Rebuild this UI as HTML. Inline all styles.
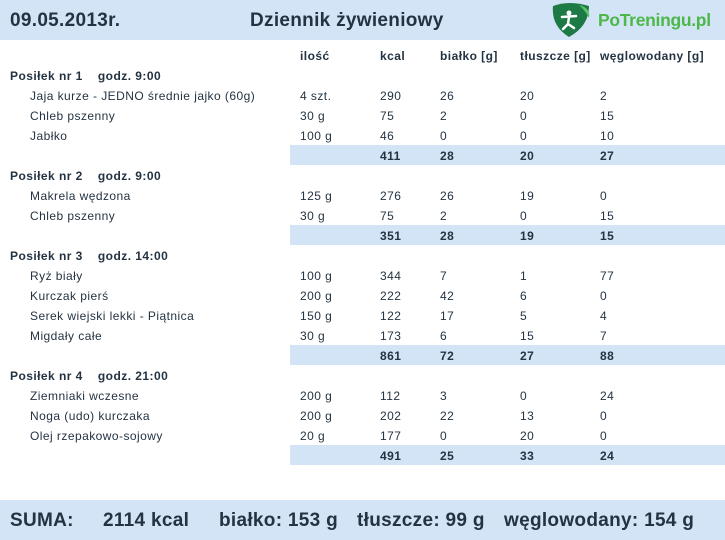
<!DOCTYPE html>
<html><head><meta charset="utf-8"><style>
*{margin:0;padding:0;box-sizing:border-box}
body{width:725px;height:540px;background:#fff;position:relative;overflow:hidden;font-family:"Liberation Sans",sans-serif;color:#243342;font-size:12px;letter-spacing:0.45px}
.t{position:absolute;white-space:nowrap;line-height:20px;margin-top:1px}
.b{font-weight:bold}
.band{position:absolute;background:#d3e4f7}
.big{font-size:19px;font-weight:bold;letter-spacing:0.3px}
</style></head><body>
<div class="band" style="left:0;top:0;width:725px;height:40px"></div>
<div class="t big" style="left:10px;top:10px">09.05.2013r.</div>
<div class="t big" style="left:250px;top:10px">Dziennik żywieniowy</div>
<svg style="position:absolute;left:549px;top:2px" width="44" height="36" viewBox="0 0 44 36">
<path d="M4 4 Q20 -2 40 4 Q40 24 20 35 Q2 24 4 4Z" fill="#1e7a45"/>
<path d="M30 3 Q42 6 40 16 Q36 8 30 3Z" fill="#5cc26a"/>
<circle cx="20" cy="11" r="2.5" fill="#fff"/>
<path d="M13 15 L27 14 M20 15 L19 22 L14 27 M19 22 L25 26" stroke="#fff" stroke-width="2.5" fill="none" stroke-linecap="round"/>
</svg>
<div class="t" style="left:598px;top:9px;font-size:17.5px;font-weight:bold;color:#4cb848;letter-spacing:-0.3px">PoTreningu.pl</div>

<div class="t b" style="left:300px;top:45px">ilość</div>
<div class="t b" style="left:380px;top:45px">kcal</div>
<div class="t b" style="left:440px;top:45px">białko [g]</div>
<div class="t b" style="left:520px;top:45px">tłuszcze [g]</div>
<div class="t b" style="left:600px;top:45px">węglowodany [g]</div>

<div class="band" style="left:290px;top:145px;width:435px;height:20px"></div>
<div class="band" style="left:290px;top:225px;width:435px;height:20px"></div>
<div class="band" style="left:290px;top:345px;width:435px;height:20px"></div>
<div class="band" style="left:290px;top:445px;width:435px;height:20px"></div>

<div class="t b" style="left:10px;top:65px">Posiłek nr 1 &nbsp;&nbsp; godz. 9:00</div>
<div class="t" style="left:30px;top:85px">Jaja kurze - JEDNO średnie jajko (60g)</div><div class="t" style="left:300px;top:85px">4 szt.</div><div class="t" style="left:380px;top:85px">290</div><div class="t" style="left:440px;top:85px">26</div><div class="t" style="left:520px;top:85px">20</div><div class="t" style="left:600px;top:85px">2</div>
<div class="t" style="left:30px;top:105px">Chleb pszenny</div><div class="t" style="left:300px;top:105px">30 g</div><div class="t" style="left:380px;top:105px">75</div><div class="t" style="left:440px;top:105px">2</div><div class="t" style="left:520px;top:105px">0</div><div class="t" style="left:600px;top:105px">15</div>
<div class="t" style="left:30px;top:125px">Jabłko</div><div class="t" style="left:300px;top:125px">100 g</div><div class="t" style="left:380px;top:125px">46</div><div class="t" style="left:440px;top:125px">0</div><div class="t" style="left:520px;top:125px">0</div><div class="t" style="left:600px;top:125px">10</div>
<div class="t b" style="left:380px;top:145px">411</div><div class="t b" style="left:440px;top:145px">28</div><div class="t b" style="left:520px;top:145px">20</div><div class="t b" style="left:600px;top:145px">27</div>

<div class="t b" style="left:10px;top:165px">Posiłek nr 2 &nbsp;&nbsp; godz. 9:00</div>
<div class="t" style="left:30px;top:185px">Makrela wędzona</div><div class="t" style="left:300px;top:185px">125 g</div><div class="t" style="left:380px;top:185px">276</div><div class="t" style="left:440px;top:185px">26</div><div class="t" style="left:520px;top:185px">19</div><div class="t" style="left:600px;top:185px">0</div>
<div class="t" style="left:30px;top:205px">Chleb pszenny</div><div class="t" style="left:300px;top:205px">30 g</div><div class="t" style="left:380px;top:205px">75</div><div class="t" style="left:440px;top:205px">2</div><div class="t" style="left:520px;top:205px">0</div><div class="t" style="left:600px;top:205px">15</div>
<div class="t b" style="left:380px;top:225px">351</div><div class="t b" style="left:440px;top:225px">28</div><div class="t b" style="left:520px;top:225px">19</div><div class="t b" style="left:600px;top:225px">15</div>

<div class="t b" style="left:10px;top:245px">Posiłek nr 3 &nbsp;&nbsp; godz. 14:00</div>
<div class="t" style="left:30px;top:265px">Ryż biały</div><div class="t" style="left:300px;top:265px">100 g</div><div class="t" style="left:380px;top:265px">344</div><div class="t" style="left:440px;top:265px">7</div><div class="t" style="left:520px;top:265px">1</div><div class="t" style="left:600px;top:265px">77</div>
<div class="t" style="left:30px;top:285px">Kurczak pierś</div><div class="t" style="left:300px;top:285px">200 g</div><div class="t" style="left:380px;top:285px">222</div><div class="t" style="left:440px;top:285px">42</div><div class="t" style="left:520px;top:285px">6</div><div class="t" style="left:600px;top:285px">0</div>
<div class="t" style="left:30px;top:305px">Serek wiejski lekki - Piątnica</div><div class="t" style="left:300px;top:305px">150 g</div><div class="t" style="left:380px;top:305px">122</div><div class="t" style="left:440px;top:305px">17</div><div class="t" style="left:520px;top:305px">5</div><div class="t" style="left:600px;top:305px">4</div>
<div class="t" style="left:30px;top:325px">Migdały całe</div><div class="t" style="left:300px;top:325px">30 g</div><div class="t" style="left:380px;top:325px">173</div><div class="t" style="left:440px;top:325px">6</div><div class="t" style="left:520px;top:325px">15</div><div class="t" style="left:600px;top:325px">7</div>
<div class="t b" style="left:380px;top:345px">861</div><div class="t b" style="left:440px;top:345px">72</div><div class="t b" style="left:520px;top:345px">27</div><div class="t b" style="left:600px;top:345px">88</div>

<div class="t b" style="left:10px;top:365px">Posiłek nr 4 &nbsp;&nbsp; godz. 21:00</div>
<div class="t" style="left:30px;top:385px">Ziemniaki wczesne</div><div class="t" style="left:300px;top:385px">200 g</div><div class="t" style="left:380px;top:385px">112</div><div class="t" style="left:440px;top:385px">3</div><div class="t" style="left:520px;top:385px">0</div><div class="t" style="left:600px;top:385px">24</div>
<div class="t" style="left:30px;top:405px">Noga (udo) kurczaka</div><div class="t" style="left:300px;top:405px">200 g</div><div class="t" style="left:380px;top:405px">202</div><div class="t" style="left:440px;top:405px">22</div><div class="t" style="left:520px;top:405px">13</div><div class="t" style="left:600px;top:405px">0</div>
<div class="t" style="left:30px;top:425px">Olej rzepakowo-sojowy</div><div class="t" style="left:300px;top:425px">20 g</div><div class="t" style="left:380px;top:425px">177</div><div class="t" style="left:440px;top:425px">0</div><div class="t" style="left:520px;top:425px">20</div><div class="t" style="left:600px;top:425px">0</div>
<div class="t b" style="left:380px;top:445px">491</div><div class="t b" style="left:440px;top:445px">25</div><div class="t b" style="left:520px;top:445px">33</div><div class="t b" style="left:600px;top:445px">24</div>

<div class="band" style="left:0;top:500px;width:725px;height:40px"></div>
<div class="t big" style="left:10px;top:510px">SUMA:</div>
<div class="t big" style="left:103px;top:510px">2114 kcal</div>
<div class="t big" style="left:219px;top:510px">białko: 153 g</div>
<div class="t big" style="left:357px;top:510px">tłuszcze: 99 g</div>
<div class="t big" style="left:504px;top:510px">węglowodany: 154 g</div>
</body></html>
